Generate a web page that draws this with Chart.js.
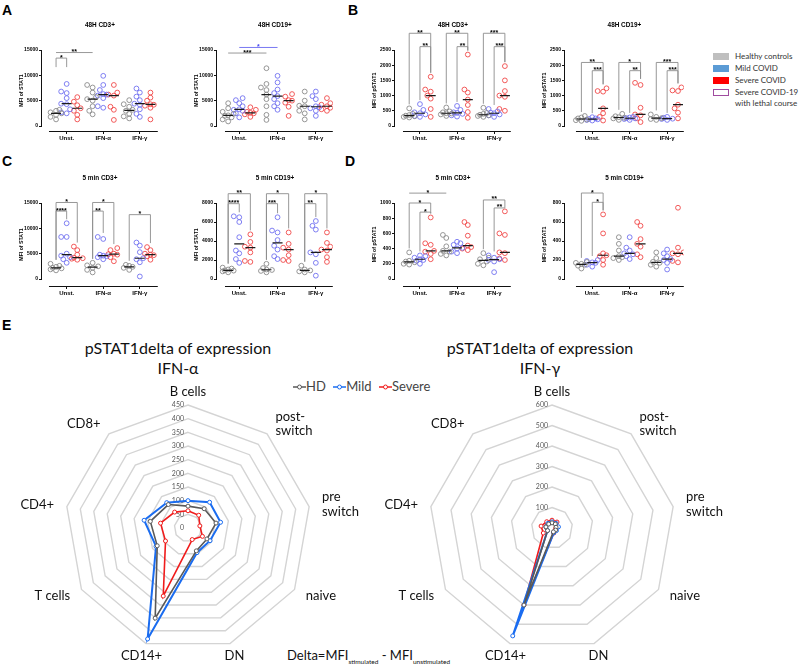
<!DOCTYPE html>
<html>
<head>
<meta charset="utf-8">
<script src="https://cdn.jsdelivr.net/npm/chart.js"></script>
<style>
  body { margin: 0; background: #fff; }
  #fig { position: relative; width: 800px; height: 672px; overflow: hidden; background: #fff; }
  #fig canvas { position: absolute; }
  .letter { position: absolute; font: bold 14px "Liberation Sans", Arial, sans-serif; line-height: 14px; }
  .sw { position: absolute; left: 713px; width: 16px; height: 7px; box-sizing: border-box; }
  .lg { position: absolute; left: 735px; font: 8px Lato, sans-serif; line-height: 10px; color: #333; white-space: nowrap; }
  .rtitle { position: absolute; width: 220px; text-align: center; font: 16px Lato, sans-serif; line-height: 20px; color: #111; }
  #radarLegend { position: absolute; left: 293px; top: 379px; font: 13px Lato, sans-serif; line-height: 14px; color: #444; white-space: nowrap; }
  #radarLegend span { margin-right: 4px; }
  #radarLegend svg { vertical-align: -1px; }
  #delta { position: absolute; left: 287px; top: 647px; font: 13px Lato, sans-serif; color: #111; white-space: nowrap; }
  #delta sub { font-size: 6.5px; }
</style>
</head>
<body>
<div id="fig">
  <div class="letter" style="left:2px;top:3px">A</div>
  <div class="letter" style="left:348px;top:3px">B</div>
  <div class="letter" style="left:2px;top:154px">C</div>
  <div class="letter" style="left:345px;top:154px">D</div>
  <div class="letter" style="left:2px;top:318px">E</div>

  <div class="sw" style="top:53px;background:#bfbfbf"></div>
  <div class="sw" style="top:65px;background:#5b9bd5"></div>
  <div class="sw" style="top:77px;background:#ff0000"></div>
  <div class="sw" style="top:89px;background:#fff;border:1.5px solid #a04ca0"></div>
  <div class="lg" style="top:51px">Healthy controls</div>
  <div class="lg" style="top:63px">Mild COVID</div>
  <div class="lg" style="top:75px">Severe COVID</div>
  <div class="lg" style="top:87px">Severe COVID-19</div>
  <div class="lg" style="top:98px">with lethal course</div>

  <div class="rtitle" style="left:68px;top:338px">pSTAT1delta of expression<br>IFN-α</div>
  <div class="rtitle" style="left:430px;top:338px">pSTAT1delta of expression<br>IFN-γ</div>
  <div id="radarLegend">
    <span><svg width="13" height="10"><line x1="0" y1="5" x2="13" y2="5" stroke="#595959" stroke-width="1.5"/><circle cx="6.5" cy="5" r="2" fill="#fff" stroke="#595959"/></svg>HD</span>
    <span><svg width="13" height="10"><line x1="0" y1="5" x2="13" y2="5" stroke="#1a6cf0" stroke-width="1.5"/><circle cx="6.5" cy="5" r="2" fill="#fff" stroke="#1a6cf0"/></svg>Mild</span>
    <span><svg width="13" height="10"><line x1="0" y1="5" x2="13" y2="5" stroke="#f01c1c" stroke-width="1.5"/><circle cx="6.5" cy="5" r="2" fill="#fff" stroke="#f01c1c"/></svg>Severe</span>
  </div>
  <div id="delta">Delta=MFI<sub>stimulated</sub> - MFI<sub>unstimulated</sub></div>

  <canvas id="a1"></canvas><canvas id="a2"></canvas>
  <canvas id="b1"></canvas><canvas id="b2"></canvas>
  <canvas id="c1"></canvas><canvas id="c2"></canvas>
  <canvas id="d1"></canvas><canvas id="d2"></canvas>
  <canvas id="radarAlpha"></canvas><canvas id="radarGamma"></canvas>
</div>
<script>
Chart.defaults.font.family = "'Liberation Sans', Arial, sans-serif";
Chart.defaults.color = "#000";

const categories = ["Unst.", "IFN-α", "IFN-γ"];
const groups = ["Healthy controls", "Mild COVID", "Severe COVID"];

// scatter values, one inner list per category (Unst., IFN-α, IFN-γ)
const a1Healthy = [[1300, 1800, 2200, 2500, 2700, 3000, 3200], [2300, 3000, 3900, 5000, 5300, 5700, 6600, 7600, 8100], [1500, 1900, 2400, 3000, 3200, 3800, 4300, 5100]];
const a1Mild = [[2500, 2700, 3300, 4300, 4400, 5500, 6500, 6800, 8300], [3600, 3900, 5500, 6000, 6200, 6300, 7100, 8100, 9900], [1800, 2400, 3300, 4200, 4400, 5100, 5800, 6600, 7400]];
const a1Severe = [[1300, 2200, 3000, 3500, 4100, 4800, 5700], [1200, 3200, 3800, 6000, 6200, 6600, 8100], [1300, 3600, 4000, 4200, 4300, 5000, 5600, 6600]];

const a2Healthy = [[900, 1300, 1700, 2000, 2100, 2400, 2800, 3500, 4500], [1200, 2200, 3900, 5300, 6200, 7100, 7600, 8300, 11400], [1300, 2500, 3000, 3900, 4000, 5000, 6800]];
const a2Mild = [[1700, 2500, 3000, 3200, 3300, 3900, 4500, 5100, 5500], [3200, 3900, 4500, 5300, 5900, 6500, 7200, 8600, 9900], [2000, 3000, 3500, 3700, 3900, 5300, 5900, 6800]];
const a2Severe = [[1800, 2300, 2500, 2600, 2800, 3200, 3700], [2000, 3800, 4600, 5000, 5100, 5800, 6300], [3000, 3300, 3600, 3900, 4200, 4500, 5500]];

const b1Healthy = [[280, 300, 320, 340, 360, 400, 580], [330, 380, 410, 420, 450, 480, 610], [300, 330, 350, 370, 400, 430, 600]];
const b1Mild = [[300, 330, 380, 420, 450, 530, 720], [310, 350, 400, 430, 450, 530, 660], [300, 350, 380, 420, 440, 480, 560]];
const b1Severe = [[300, 560, 900, 1000, 1130, 1200, 1620], [270, 460, 690, 870, 1100, 1200, 2350], [500, 560, 960, 1000, 1150, 1500, 1970]];

const b2Healthy = [[170, 190, 210, 250, 280, 330], [200, 250, 270, 290, 320, 400], [200, 230, 260, 300, 380]];
const b2Mild = [[180, 200, 220, 230, 250, 290], [200, 230, 250, 260, 280, 300], [200, 230, 240, 270, 300]];
const b2Severe = [[180, 300, 420, 580, 1130, 1150, 1240], [130, 250, 350, 380, 600, 1350, 1420], [250, 440, 580, 700, 1150, 1170, 1270]];

const c1Healthy = [[1700, 1900, 2100, 2200, 2400, 2600, 3000], [1300, 1800, 2200, 2500, 2700, 3200], [1800, 2200, 2400, 2600, 2800]];
const c1Mild = [[3200, 3900, 4300, 4600, 5000, 8300, 8300, 11000], [3900, 4300, 4500, 4600, 4800, 7900, 8300], [500, 3300, 3900, 4100, 5300, 6600, 7200]];
const c1Severe = [[3800, 4000, 4100, 4200, 4800, 5700, 6400], [3500, 4300, 4800, 4900, 5000, 5700, 6100], [3800, 4500, 4700, 4800, 5000, 5700, 6300]];

const c2Healthy = [[700, 800, 880, 910, 1000, 1100, 1200], [700, 850, 950, 1000, 1150, 1600], [700, 800, 900, 1000, 1400]];
const c2Mild = [[1700, 2100, 2700, 3000, 4400, 6000, 6500, 6600], [2100, 2400, 3100, 3500, 4100, 4900, 5100, 6500], [350, 1700, 2600, 2800, 5200, 5600, 6100]];
const c2Severe = [[1800, 1900, 2800, 3300, 3400, 3900, 4700], [1900, 2000, 2500, 3100, 3300, 3700, 4900], [1800, 2300, 3000, 3100, 3400, 3800, 4900]];

const d1Healthy = [[190, 200, 220, 230, 240, 350], [310, 330, 360, 370, 430, 540, 580], [180, 200, 230, 260, 280, 340]];
const d1Mild = [[200, 240, 250, 260, 280, 300, 310], [340, 360, 400, 410, 450, 470, 490], [90, 230, 250, 260, 280, 310]];
const d1Severe = [[260, 330, 360, 370, 450, 470, 810], [380, 400, 420, 440, 570, 710, 750], [250, 270, 340, 350, 580, 600, 890]];

const d2Healthy = [[110, 140, 150, 160, 170, 180], [200, 220, 230, 240, 300, 370, 440], [130, 150, 170, 180, 220, 280]];
const d2Mild = [[130, 150, 170, 175, 190, 200], [210, 240, 260, 270, 300, 330, 440], [100, 170, 200, 210, 240, 270, 310]];
const d2Severe = [[150, 200, 240, 250, 270, 480, 680], [230, 260, 340, 370, 420, 560, 600], [175, 190, 260, 270, 280, 330, 750]];

// y tick labels
const ticksStat1 = [0, 5000, 10000, 15000];
const ticksPStat48 = [0, 500, 1000, 1500, 2000, 2500];
const ticksStat1Cd19 = [0, 2000, 4000, 6000, 8000];
const ticksPStatCd3 = [0, 200, 400, 600, 800, 1000];
const ticksPStatCd19 = [0, 200, 400, 600, 800];

// significance: [category, group, category, group, height, stars, legs]
const a1Brackets = [[0, 0, 0, 1, 13400, "*", "short"], [0, 0, 1, 0, 14500, "**", "none"]];
const a2Brackets = [[0, 0, 1, 0, 14400, "***", "none"], [0, 1, 1, 1, 15500, "*", "none"]];
const b1Brackets = [[0, 0, 0, 2, 3050, "**"], [0, 1, 0, 2, 2610, "**"], [1, 0, 1, 2, 3050, "**"], [1, 1, 1, 2, 2610, "**"], [2, 0, 2, 2, 3050, "***"], [2, 1, 2, 2, 2610, "***"]];
const b2Brackets = [[0, 0, 0, 2, 2090, "**"], [0, 1, 0, 2, 1820, "***"], [1, 0, 1, 2, 2090, "*"], [1, 1, 1, 2, 1820, "**"], [2, 0, 2, 2, 2090, "***"], [2, 1, 2, 2, 1820, "***"]];
const c1Brackets = [[0, 0, 0, 2, 15100, "*"], [0, 0, 0, 1, 13400, "****"], [1, 0, 1, 2, 15100, "*"], [1, 0, 1, 1, 13400, "**"], [2, 0, 2, 2, 12700, "*"]];
const c2Brackets = [[0, 0, 0, 2, 8980, "**"], [0, 0, 0, 1, 7930, "****"], [1, 0, 1, 2, 8980, "*"], [1, 0, 1, 1, 7930, "***"], [2, 0, 2, 2, 8980, "*"], [2, 0, 2, 1, 7930, "**"]];
const d1Brackets = [[0, 0, 1, 0, 1130, "*", "none"], [0, 0, 0, 2, 1000, "*"], [0, 1, 0, 2, 880, "*"], [2, 0, 2, 2, 1040, "**"], [2, 1, 2, 2, 935, "**"]];
const d2Brackets = [[0, 0, 0, 2, 905, "*"], [0, 1, 0, 2, 807, "*"]];

// radar (delta MFI)
const radarLabels = ["B cells", ["post-", "switch"], ["pre", "switch"], "naive", "DN", "CD14+", "T cells", "CD4+", "CD8+"];
const alphaHD = [80, 92, 104, 80, 89, 351, 130, 140, 112];
const alphaMild = [100, 123, 121, 93, 96, 432, 135, 163, 121];
const alphaSevere = [63, 61, 44, 61, 45, 265, 95, 102, 76];
const gammaHD = [25, 25, 20, 20, 20, 400, 25, 30, 25];
const gammaMild = [30, 30, 32, 25, 25, 560, 25, 30, 30];
const gammaSevere = [38, 38, 20, 18, 26, 400, 49, 54, 40];

const dotColors = ["#8a8a8a", "#7272f0", "#f04848"];
const groupOffset = [-0.29, 0, 0.29];
const radarColors = ["#595959", "#1a6cf0", "#f01c1c"];

function median(vals) {
  const s = [...vals].sort((a, b) => a - b);
  const m = s.length >> 1;
  return s.length % 2 ? s[m] : (s[m - 1] + s[m]) / 2;
}

// spread points sideways when they would sit on top of each other
function swarm(set, gi, pxCat, pxVal) {
  const pts = [];
  set.forEach((vals, c) => {
    const placed = [];
    [...vals].sort((a, b) => a - b).forEach(v => {
      let best = 0, bestGap = -1;
      for (const off of [0, -3.4, 3.4, -5.5, 5.5]) {
        let gap = Infinity;
        for (const p of placed) gap = Math.min(gap, Math.hypot(p.off - off, (p.v - v) * pxVal));
        if (gap >= 4.4) { best = off; break; }
        if (gap > bestGap) { bestGap = gap; best = off; }
      }
      placed.push({ off: best, v });
      pts.push({ x: c + groupOffset[gi] + best / pxCat, y: v });
    });
  });
  return pts;
}

function prismPanel(p) {
  const g = p.box;
  const canvas = document.getElementById(p.id);
  canvas.width = g.right - g.left + 48;
  canvas.height = g.axis - g.top + 66;
  canvas.style.left = (g.left - 42) + "px";
  canvas.style.top = (g.top - 50) + "px";

  const yMax = p.yTicks[p.yTicks.length - 1];
  const yMin = -(g.axis - g.zero) / (g.zero - g.top) * yMax;
  const pxCat = (g.cat2 - g.cat0) / 2;
  const pxVal = (g.zero - g.top) / yMax;
  const xMin = -(g.cat0 - g.left) / pxCat;
  const xMax = 2 + (g.right - g.cat2) / pxCat;
  const xStartVal = (g.xStart - g.cat0) / pxCat;

  const datasets = p.sets.map((set, gi) => ({
    label: groups[gi],
    data: swarm(set, gi, pxCat, pxVal),
    borderColor: dotColors[gi],
    backgroundColor: "rgba(0,0,0,0)",
    pointRadius: 2.4,
    pointBorderWidth: 0.9,
    order: 1
  }));
  const medians = [];
  p.sets.forEach((set, gi) => set.forEach((vals, c) => medians.push({ x: c + groupOffset[gi], y: median(vals) })));
  datasets.push({
    label: "median", data: medians, pointStyle: "line", pointRadius: 5,
    borderColor: "#1a1a1a", pointBorderWidth: 1.2, order: 0
  });

  const axesAndStars = {
    id: "prism_" + p.id,
    afterDraw(chart) {
      const { ctx, chartArea: a, scales: { x, y } } = chart;
      ctx.save();
      ctx.strokeStyle = "#111";
      ctx.lineWidth = 1;
      ctx.beginPath();
      const ax = Math.round(a.left) - 0.5;
      ctx.moveTo(ax, y.getPixelForValue(0));
      ctx.lineTo(ax, y.getPixelForValue(yMax));
      const ay = Math.round(a.bottom) + 0.5;
      ctx.moveTo(x.getPixelForValue(xStartVal), ay);
      ctx.lineTo(a.right, ay);
      ctx.stroke();

      ctx.fillStyle = "#000";
      ctx.font = "bold 6.4px 'Liberation Sans'";
      ctx.textAlign = "center";
      ctx.textBaseline = "middle";
      ctx.fillText(p.title, (a.left + a.right) / 2, a.top - 25);

      ctx.font = "bold 7px 'Liberation Sans'";
      ctx.textBaseline = "alphabetic";
      ctx.lineWidth = 0.9;
      p.brackets.forEach(([c1, g1, c2, g2, val, stars, legs]) => {
        const x1 = x.getPixelForValue(c1 + groupOffset[g1]);
        const x2 = x.getPixelForValue(c2 + groupOffset[g2]);
        const by = y.getPixelForValue(val);
        ctx.strokeStyle = g1 === 1 && g2 === 1 ? "#6a6af0" : "#8c8c8c";
        ctx.beginPath();
        if (legs === "none") {
          ctx.moveTo(x1, by); ctx.lineTo(x2, by);
        } else if (legs === "short") {
          ctx.moveTo(x1, by + 9); ctx.lineTo(x1, by); ctx.lineTo(x2, by); ctx.lineTo(x2, by + 9);
        } else {
          const e1 = y.getPixelForValue(Math.max(...p.sets[g1][c1])) - 4;
          const e2 = y.getPixelForValue(Math.max(...p.sets[g2][c2])) - 4;
          ctx.moveTo(x1, e1); ctx.lineTo(x1, by); ctx.lineTo(x2, by); ctx.lineTo(x2, e2);
        }
        ctx.stroke();
        ctx.fillStyle = g1 === 1 && g2 === 1 ? "#4a4af0" : "#000";
        ctx.fillText(stars, (x1 + x2) / 2, by + 1.5);
      });
      ctx.restore();
    }
  };

  new Chart(canvas, {
    type: "scatter",
    data: { datasets },
    options: {
      responsive: false,
      animation: false,
      events: [],
      layout: { padding: { top: 50, right: 6, left: 0, bottom: 0 } },
      plugins: { legend: { display: false }, tooltip: { enabled: false } },
      scales: {
        x: {
          type: "linear", min: xMin, max: xMax,
          afterBuildTicks: s => { s.ticks = categories.map((_, i) => ({ value: i })); },
          afterFit: s => { s.height = 16; },
          ticks: { callback: v => categories[v], font: { size: 6, weight: "bold" }, padding: 1, maxRotation: 0, autoSkip: false },
          grid: { drawOnChartArea: false, tickLength: 3, tickColor: "#111", tickWidth: 1 },
          border: { display: false }
        },
        y: {
          min: yMin, max: yMax,
          afterBuildTicks: s => { s.ticks = p.yTicks.map(v => ({ value: v })); },
          afterFit: s => { s.width = 42; },
          ticks: { callback: v => String(v), font: { size: 5, weight: "bold" }, padding: 1, autoSkip: false },
          grid: { drawOnChartArea: false, tickLength: 3, tickColor: "#111", tickWidth: 1 },
          border: { display: false },
          title: { display: true, text: p.yTitle, font: { size: 5.2, weight: "bold" }, padding: { top: 18, bottom: 0 } }
        }
      }
    },
    plugins: [axesAndStars]
  });
}

const boxAB = { top: 50, zero: 126, axis: 131 };
const boxCD = { top: 203, zero: 279, axis: 286 };
const colLeft = { left: 42, right: 158, cat0: 66.7, cat2: 140, xStart: 49 };
const colMid = { left: 217, right: 333, cat0: 239.3, cat2: 316, xStart: 225 };
const colB = { left: 395, right: 511, cat0: 420, cat2: 494.3, xStart: 403 };
const colB2 = { left: 565, right: 684, cat0: 592.3, cat2: 667.3, xStart: 576 };

const panels = [
  { id: "a1", box: { ...colLeft, ...boxAB }, title: "48H CD3+", yTitle: "MFI of STAT1", yTicks: ticksStat1, sets: [a1Healthy, a1Mild, a1Severe], brackets: a1Brackets },
  { id: "a2", box: { ...colMid, ...boxAB }, title: "48H CD19+", yTitle: "MFI of STAT1", yTicks: ticksStat1, sets: [a2Healthy, a2Mild, a2Severe], brackets: a2Brackets },
  { id: "b1", box: { ...colB, ...boxAB }, title: "48H CD3+", yTitle: "MFI of pSTAT1", yTicks: ticksPStat48, sets: [b1Healthy, b1Mild, b1Severe], brackets: b1Brackets },
  { id: "b2", box: { ...colB2, ...boxAB }, title: "48H CD19+", yTitle: "MFI of pSTAT1", yTicks: ticksPStat48, sets: [b2Healthy, b2Mild, b2Severe], brackets: b2Brackets },
  { id: "c1", box: { ...colLeft, ...boxCD }, title: "5 min CD3+", yTitle: "MFI of STAT1", yTicks: ticksStat1, sets: [c1Healthy, c1Mild, c1Severe], brackets: c1Brackets },
  { id: "c2", box: { ...colMid, ...boxCD }, title: "5 min CD19+", yTitle: "MFI of STAT1", yTicks: ticksStat1Cd19, sets: [c2Healthy, c2Mild, c2Severe], brackets: c2Brackets },
  { id: "d1", box: { ...colB, ...boxCD }, title: "5 min CD3+", yTitle: "MFI of pSTAT1", yTicks: ticksPStatCd3, sets: [d1Healthy, d1Mild, d1Severe], brackets: d1Brackets },
  { id: "d2", box: { ...colB2, ...boxCD }, title: "5 min CD19+", yTitle: "MFI of pSTAT1", yTicks: ticksPStatCd19, sets: [d2Healthy, d2Mild, d2Severe], brackets: d2Brackets }
];
panels.forEach(prismPanel);

const radarText = {
  id: "radarText",
  beforeDatasetsDraw(chart) {
    const { ctx } = chart;
    const r = chart.scales.r;
    ctx.save();
    ctx.fillStyle = "#595959";
    ctx.font = "7px Lato";
    ctx.textAlign = "right";
    ctx.textBaseline = "middle";
    r.ticks.forEach(t => ctx.fillText(String(t.value), r.xCenter - 4, r.yCenter - r.getDistanceFromCenterForValue(t.value)));

    ctx.fillStyle = "#111";
    ctx.font = "13px Lato";
    chart.data.labels.forEach((lbl, i) => {
      const pos = r.getPointPosition(i, r.drawingArea + 13);
      const s = Math.sin(r.getIndexAngle(i));
      ctx.textAlign = Math.abs(s) < 0.5 ? "center" : (s > 0 ? "left" : "right");
      const lines = Array.isArray(lbl) ? lbl : [lbl];
      const y0 = pos.y - (lines.length - 1) * 14.5 / 2;
      lines.forEach((t, k) => ctx.fillText(t, pos.x, y0 + k * 14.5));
    });
    ctx.restore();
  }
};

function radarPanel(id, left, width, cx, max, step, series) {
  const canvas = document.getElementById(id);
  const top = 330, height = 342, cy = 528, R = 123;
  canvas.width = width;
  canvas.height = height;
  canvas.style.left = left + "px";
  canvas.style.top = top + "px";
  new Chart(canvas, {
    type: "radar",
    data: {
      labels: radarLabels,
      datasets: series.map((vals, i) => ({
        label: ["HD", "Mild", "Severe"][i],
        data: vals,
        borderColor: radarColors[i],
        pointBorderColor: radarColors[i],
        pointBackgroundColor: "#fff",
        borderWidth: i === 1 ? 2 : 1.6,
        pointRadius: 2,
        pointBorderWidth: 1,
        fill: false,
        tension: 0
      }))
    },
    options: {
      responsive: false,
      animation: false,
      events: [],
      layout: { padding: { left: cx - R - left, right: left + width - (cx + R), top: cy - R - top, bottom: top + height - (cy + R) } },
      plugins: { legend: { display: false }, tooltip: { enabled: false } },
      scales: {
        r: {
          min: 0, max,
          ticks: { stepSize: step, display: false },
          pointLabels: { display: false },
          angleLines: { display: false },
          grid: { circular: false, color: "#d4d4d4", lineWidth: 1.4 }
        }
      }
    },
    plugins: [radarText]
  });
}

radarPanel("radarAlpha", 0, 380, 188, 450, 50, [alphaHD, alphaMild, alphaSevere]);
radarPanel("radarGamma", 380, 420, 552, 600, 100, [gammaHD, gammaMild, gammaSevere]);
</script>
</body>
</html>
